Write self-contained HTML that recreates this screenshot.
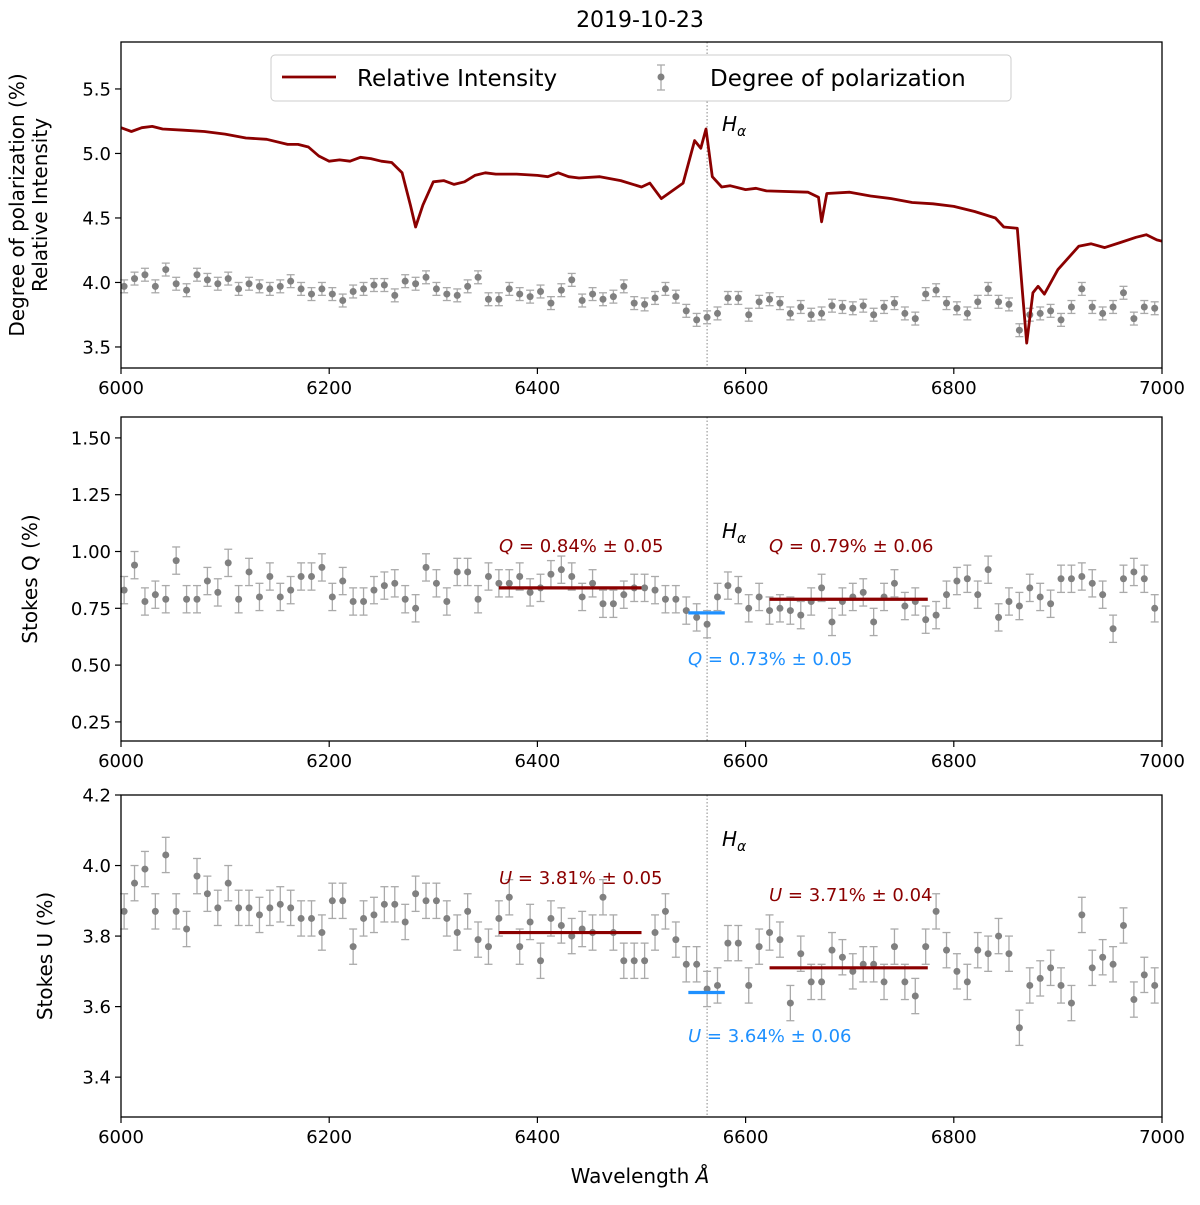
<!DOCTYPE html>
<html><head><meta charset="utf-8"><style>
body{margin:0;background:#fff}
svg text{font-family:"DejaVu Sans","Liberation Sans",sans-serif}
</style></head><body>
<svg id="chart" xmlns="http://www.w3.org/2000/svg" width="1200" height="1200" viewBox="0 0 1200 1200">
<rect width="1200" height="1200" fill="#fff"/>
<text x="640" y="27" font-size="22" text-anchor="middle" fill="#000">2019-10-23</text>
<g id="p1"></g>
<g id="p2"></g>
<g id="p3"></g>
<text x="640" y="1183" font-size="20" text-anchor="middle" fill="#000">Wavelength <tspan font-style="italic">Å</tspan></text>
</svg>
<script>
const wl = [];
for (let i = 0; i < 100; i++) wl.push(6003 + i * 10);
const intensityWl = [6000,6010,6020,6030,6040,6060,6080,6100,6120,6140,6160,6170,6180,6190,6200,6210,6220,6230,6240,6250,6260,6270,6278,6283,6290,6300,6310,6320,6330,6340,6350,6360,6380,6400,6410,6420,6430,6440,6460,6480,6500,6508,6519,6540,6551,6557,6562,6568,6577,6585,6600,6610,6620,6660,6670,6673,6678,6700,6720,6740,6760,6780,6800,6820,6840,6848,6861,6866,6870,6876,6881,6887,6900,6920,6932,6945,6960,6975,6985,6995,7000];
const intensityVal = [5.20,5.17,5.20,5.21,5.19,5.18,5.17,5.15,5.12,5.11,5.07,5.07,5.05,4.98,4.94,4.95,4.94,4.97,4.96,4.94,4.93,4.85,4.60,4.43,4.60,4.78,4.79,4.76,4.78,4.83,4.85,4.84,4.84,4.83,4.82,4.85,4.82,4.81,4.82,4.79,4.74,4.77,4.65,4.77,5.10,5.04,5.19,4.82,4.74,4.75,4.72,4.73,4.71,4.70,4.66,4.47,4.69,4.70,4.67,4.65,4.62,4.61,4.59,4.55,4.50,4.43,4.42,3.92,3.53,3.92,3.97,3.91,4.10,4.28,4.30,4.27,4.31,4.35,4.37,4.33,4.32];
const polVal = [3.97,4.03,4.06,3.97,4.10,3.99,3.94,4.06,4.02,3.99,4.03,3.95,3.99,3.97,3.95,3.97,4.01,3.95,3.91,3.95,3.91,3.86,3.93,3.95,3.98,3.98,3.90,4.01,3.99,4.04,3.95,3.91,3.90,3.97,4.04,3.87,3.87,3.95,3.91,3.89,3.93,3.84,3.94,4.02,3.86,3.91,3.87,3.89,3.97,3.84,3.83,3.88,3.95,3.89,3.78,3.71,3.73,3.76,3.88,3.88,3.75,3.85,3.87,3.84,3.76,3.81,3.75,3.76,3.82,3.81,3.80,3.82,3.75,3.81,3.84,3.76,3.72,3.91,3.94,3.84,3.80,3.76,3.85,3.95,3.85,3.83,3.63,3.75,3.76,3.78,3.71,3.81,3.95,3.81,3.76,3.81,3.92,3.72,3.81,3.80];
const qVal = [0.83,0.94,0.78,0.81,0.79,0.96,0.79,0.79,0.87,0.82,0.95,0.79,0.91,0.80,0.89,0.80,0.83,0.89,0.89,0.93,0.80,0.87,0.78,0.78,0.83,0.85,0.86,0.79,0.75,0.93,0.86,0.78,0.91,0.91,0.79,0.89,0.86,0.86,0.89,0.82,0.84,0.90,0.92,0.89,0.80,0.86,0.77,0.77,0.81,0.84,0.84,0.83,0.79,0.79,0.74,0.71,0.68,0.80,0.85,0.83,0.75,0.80,0.74,0.75,0.74,0.72,0.78,0.84,0.69,0.78,0.80,0.82,0.69,0.80,0.86,0.76,0.78,0.70,0.72,0.81,0.87,0.88,0.81,0.92,0.71,0.78,0.76,0.84,0.80,0.77,0.88,0.88,0.89,0.86,0.81,0.66,0.88,0.91,0.88,0.75];
const uVal = [3.87,3.95,3.99,3.87,4.03,3.87,3.82,3.97,3.92,3.88,3.95,3.88,3.88,3.86,3.88,3.89,3.88,3.85,3.85,3.81,3.90,3.90,3.77,3.85,3.86,3.89,3.89,3.84,3.92,3.90,3.90,3.85,3.81,3.87,3.79,3.77,3.85,3.91,3.77,3.84,3.73,3.85,3.83,3.80,3.82,3.81,3.91,3.81,3.73,3.73,3.73,3.81,3.87,3.79,3.72,3.72,3.65,3.66,3.78,3.78,3.66,3.77,3.81,3.79,3.61,3.75,3.67,3.67,3.76,3.74,3.70,3.72,3.72,3.67,3.77,3.67,3.63,3.77,3.87,3.76,3.70,3.67,3.76,3.75,3.80,3.75,3.54,3.66,3.68,3.71,3.66,3.61,3.86,3.71,3.74,3.72,3.83,3.62,3.69,3.66];
const p1Ticks = [3.5,4.0,4.5,5.0,5.5];
const p2Ticks = [0.25,0.50,0.75,1.00,1.25,1.50];
const p3Ticks = [3.4,3.6,3.8,4.0,4.2];
const xTicks = [6000,6200,6400,6600,6800,7000];
const qMeans = [[6363,6500,0.84],[6545,6580,0.73],[6623,6775,0.79]];
const uMeans = [[6363,6500,3.81],[6545,6580,3.64],[6623,6775,3.71]];

const NS = "http://www.w3.org/2000/svg";
const X0 = 121, X1 = 1162;
const xs = w => X0 + (w - 6000) / 1000 * (X1 - X0);
function mk(parent, tag, attrs) {
  const e = document.createElementNS(NS, tag);
  for (const k in attrs) e.setAttribute(k, attrs[k]);
  parent.appendChild(e);
  return e;
}
function axes(g, top, bot, vTop, vBot, ticks, fmt, label, labelX) {
  const ys = v => top + (vTop - v) / (vTop - vBot) * (bot - top);
  const dl = mk(g, 'line', {x1: xs(6563), x2: xs(6563), y1: top, y2: bot, stroke: '#888', 'stroke-width': 1, 'stroke-dasharray': '1.5,2'});
  
  
  ticks.forEach(t => {
    const y = ys(t);
    const tl = mk(g, 'line', {x1: X0 - 6, x2: X0, y1: y, y2: y, stroke: '#000', 'stroke-width': 1.2});
    
    
    const tx = mk(g, 'text', {x: X0 - 10, y: y + 6.5, 'font-size': 18, 'text-anchor': 'end', fill: '#000'});
    tx.textContent = fmt(t);
    
    
  });
  xTicks.forEach(t => {
    const x = xs(t);
    const tl = mk(g, 'line', {x1: x, x2: x, y1: bot, y2: bot + 6, stroke: '#000', 'stroke-width': 1.2});
    
    
    const tx = mk(g, 'text', {x: x, y: bot + 26, 'font-size': 18, 'text-anchor': 'middle', fill: '#000'});
    tx.textContent = t;
    
    
  });
  label.forEach((l, i) => {
    const cy = (top + bot) / 2;
    const tx = mk(g, 'text', {x: labelX[i], y: cy, 'font-size': 20, 'text-anchor': 'middle', fill: '#000', transform: `rotate(-90 ${labelX[i]} ${cy})`});
    tx.textContent = l;
    
    
  });
  return ys;
}
function frame(g, top, bot) {
  const r = mk(g, 'rect', {x: X0, y: top, width: X1 - X0, height: bot - top, fill: 'none', stroke: '#000', 'stroke-width': 1.3});
  
  
}
function errPoints(g, vals, err, ys) {
  vals.forEach((v, i) => {
    const x = xs(wl[i]);
    const y1 = ys(v + err), y2 = ys(v - err);
    const eg = mk(g, 'g', {stroke: '#aaa', 'stroke-width': 1.3});
    
    
    mk(eg, 'line', {x1: x, x2: x, y1: y1, y2: y2});
    mk(eg, 'line', {x1: x - 4, x2: x + 4, y1: y1, y2: y1});
    mk(eg, 'line', {x1: x - 4, x2: x + 4, y1: y2, y2: y2});
    const c = mk(g, 'circle', {cx: x, cy: ys(v), r: 3.5, fill: '#808080'});
    
    
  });
}
function txt(g, x, y, html, color, name, size) {
  const t = mk(g, 'text', {x: x, y: y, 'font-size': size || 18, fill: color});
  t.innerHTML = html;
  
  
}
function means(g, arr, ys) {
  arr.forEach((m, i) => {
    const col = i === 1 ? '#1e90ff' : '#8b0000';
    const l = mk(g, 'line', {x1: xs(m[0]), x2: xs(m[1]), y1: ys(m[2]), y2: ys(m[2]), stroke: col, 'stroke-width': 3.2});
    
    
  });
}
const HA = '<tspan font-style="italic">H</tspan><tspan font-style="italic" font-size="14" dy="5">α</tspan>';

// Panel 1
const g1 = document.getElementById('p1');
const y1s = axes(g1, 42, 368, 5.864, 3.337, p1Ticks, v => v.toFixed(1), ['Degree of polarization (%)', 'Relative Intensity'], [24, 47]);
errPoints(g1, polVal, 0.05, y1s);
const ipath = mk(g1, 'path', {d: intensityWl.map((w, i) => (i ? 'L' : 'M') + xs(w).toFixed(1) + ',' + y1s(intensityVal[i]).toFixed(1)).join(''), fill: 'none', stroke: '#8b0000', 'stroke-width': 2.8, 'stroke-linejoin': 'round'});


txt(g1, 722, 131, HA, '#000', 'h-alpha-label', 20);
const lg = mk(g1, 'g', {});


mk(lg, 'rect', {x: 271, y: 55, width: 740, height: 46, rx: 4, fill: '#fff', stroke: '#ccc', 'stroke-width': 1});
mk(lg, 'line', {x1: 282, x2: 336, y1: 77, y2: 77, stroke: '#8b0000', 'stroke-width': 2.8});
txt(lg, 357, 86, 'Relative Intensity', '#000', 'legend-entry-intensity', 23);
mk(lg, 'line', {x1: 661, x2: 661, y1: 65, y2: 90, stroke: '#aaa', 'stroke-width': 1.3});
mk(lg, 'line', {x1: 657, x2: 665, y1: 65, y2: 65, stroke: '#aaa', 'stroke-width': 1.3});
mk(lg, 'line', {x1: 657, x2: 665, y1: 90, y2: 90, stroke: '#aaa', 'stroke-width': 1.3});
mk(lg, 'circle', {cx: 661, cy: 77, r: 3.5, fill: '#808080'});
txt(lg, 710, 86, 'Degree of polarization', '#000', 'legend-entry-polarization', 23);
frame(g1, 42, 368);

// Panel 2
const g2 = document.getElementById('p2');
const y2s = axes(g2, 417, 741, 1.592, 0.166, p2Ticks, v => v.toFixed(2), ['Stokes Q (%)'], [37]);
errPoints(g2, qVal, 0.06, y2s);
means(g2, qMeans, y2s);
txt(g2, 722, 538, HA, '#000', 'h-alpha-label', 20);
txt(g2, 499, 552, '<tspan font-style="italic">Q</tspan> = 0.84% ± 0.05', '#8b0000', 'q-left-annotation');
txt(g2, 769, 552, '<tspan font-style="italic">Q</tspan> = 0.79% ± 0.06', '#8b0000', 'q-right-annotation');
txt(g2, 688, 665, '<tspan font-style="italic">Q</tspan> = 0.73% ± 0.05', '#1e90ff', 'q-halpha-annotation');
frame(g2, 417, 741);

// Panel 3
const g3 = document.getElementById('p3');
const y3s = axes(g3, 795, 1117, 4.2, 3.287, p3Ticks, v => v.toFixed(1), ['Stokes U (%)'], [52]);
errPoints(g3, uVal, 0.05, y3s);
means(g3, uMeans, y3s);
txt(g3, 722, 846, HA, '#000', 'h-alpha-label', 20);
txt(g3, 499, 884, '<tspan font-style="italic">U</tspan> = 3.81% ± 0.05', '#8b0000', 'u-left-annotation');
txt(g3, 769, 901, '<tspan font-style="italic">U</tspan> = 3.71% ± 0.04', '#8b0000', 'u-right-annotation');
txt(g3, 688, 1042, '<tspan font-style="italic">U</tspan> = 3.64% ± 0.06', '#1e90ff', 'u-halpha-annotation');
frame(g3, 795, 1117);
</script>
</body></html>
